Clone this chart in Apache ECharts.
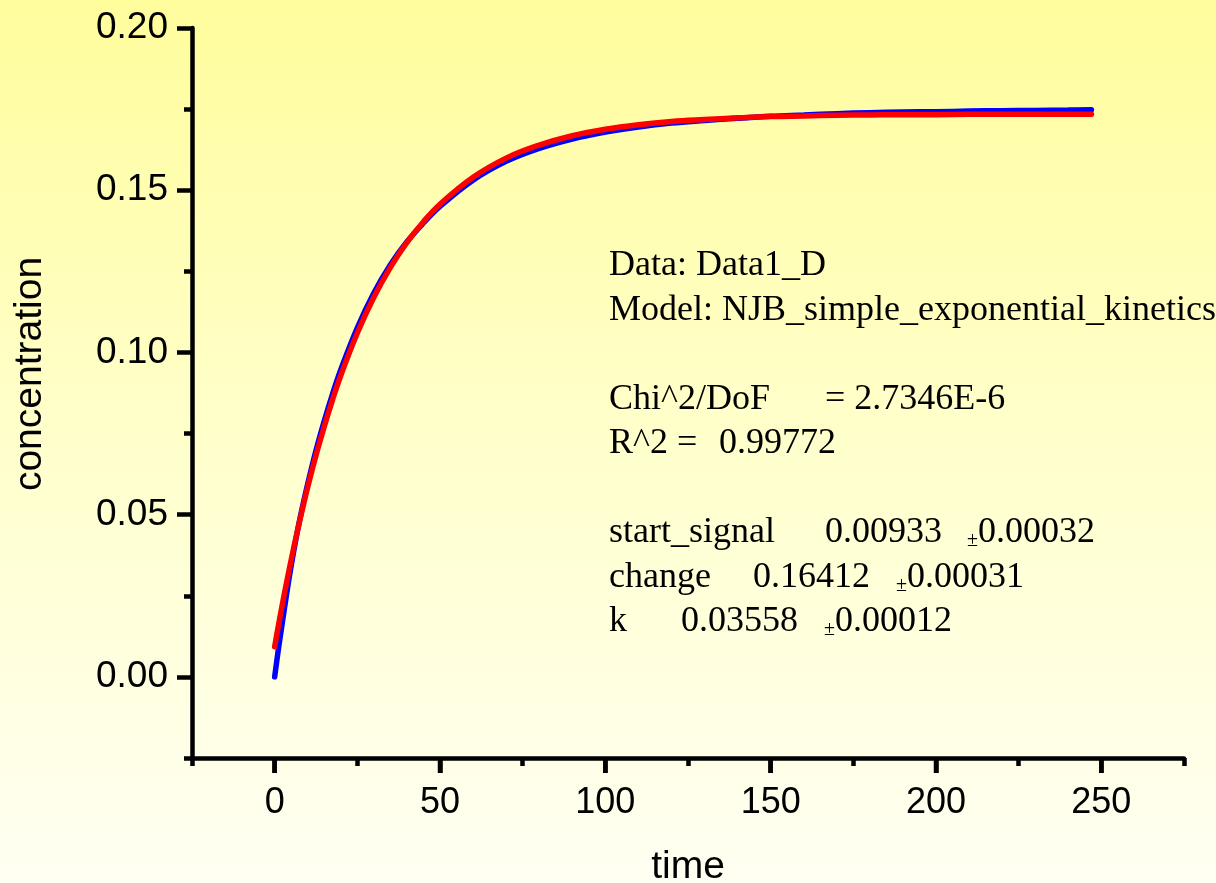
<!DOCTYPE html>
<html>
<head>
<meta charset="utf-8">
<script src="https://cdn.jsdelivr.net/npm/echarts@6/dist/echarts.min.js"></script>
<style>
  html, body { margin: 0; padding: 0; }
  #chart { width: 1216px; height: 883px; }
</style>
</head>
<body>
<div id="chart"></div>
<script>
// Sampling times (same grid for the measured trace and the fitted curve)
const times = [0, 1, 2, 3, 4, 5, 6, 7, 8, 10, 12.5, 15, 17.5, 20, 25, 30, 35, 40, 45, 50,
  60, 70, 80, 90, 100, 110, 120, 130, 140, 150, 160, 170, 180, 190, 200, 210, 220, 230, 240, 247];

// Measured concentration (Data1_D)
const measured = [0.0000, 0.0076, 0.0146, 0.0214, 0.0281, 0.0343, 0.0401, 0.0455, 0.0505, 0.0595,
  0.0698, 0.0789, 0.0872, 0.0947, 0.1076, 0.1183, 0.1270, 0.1341, 0.1399, 0.1450,
  0.1531, 0.1589, 0.1629, 0.1658, 0.1679, 0.1695, 0.1707, 0.1715, 0.1722, 0.1728,
  0.1732, 0.1736, 0.1739, 0.1741, 0.1742, 0.1744, 0.1745, 0.1746, 0.1747, 0.1748];

// Fitted curve (NJB_simple_exponential_kinetics)
const fitted = [0.0093, 0.0151, 0.0206, 0.0260, 0.0311, 0.0361, 0.0409, 0.0455, 0.0500, 0.0585,
  0.0683, 0.0772, 0.0854, 0.0929, 0.1060, 0.1170, 0.1262, 0.1339, 0.1403, 0.1457,
  0.1540, 0.1599, 0.1639, 0.1668, 0.1688, 0.1702, 0.1712, 0.1718, 0.1723, 0.1727,
  0.1729, 0.1731, 0.1732, 0.1733, 0.1733, 0.1734, 0.1734, 0.1734, 0.1734, 0.1734];

// Axis ticks
const xMajorTicks = [0, 50, 100, 150, 200, 250];
const xMinorTicks = [-25, 25, 75, 125, 175, 225, 275];
const yMajorTicks = [0, 0.05, 0.10, 0.15, 0.20];
const yMinorTicks = [-0.025, 0.025, 0.075, 0.125, 0.175];
const X_MIN = -25, X_MAX = 275, Y_MIN = -0.025, Y_MAX = 0.2;

// Fit report lines: [text, left x, line index, small?]
const reportItems = [
  ['Data: Data1_D', 609, 0, false],
  ['Model: NJB_simple_exponential_kinetics', 609, 1, false],
  ['Chi^2/DoF', 609, 3, false],
  ['= 2.7346E-6', 825, 3, false],
  ['R^2 =', 609, 4, false],
  ['0.99772', 719, 4, false],
  ['start_signal', 609, 6, false],
  ['0.00933', 825, 6, false],
  ['\u00b1', 967, 6, true],
  ['0.00032', 978, 6, false],
  ['change', 609, 7, false],
  ['0.16412', 753, 7, false],
  ['\u00b1', 896, 7, true],
  ['0.00031', 907, 7, false],
  ['k', 609, 8, false],
  ['0.03558', 681, 8, false],
  ['\u00b1', 824, 8, true],
  ['0.00012', 835, 8, false]
];

const SANS = 'Liberation Sans, Arial, sans-serif';
const SERIF = 'Liberation Serif, Times New Roman, serif';
const AXIS_W = 4.5;
const MAJOR_LEN = 15, MINOR_LEN = 8;

const chart = echarts.init(document.getElementById('chart'), null, { renderer: 'canvas' });

const pairs = (ys) => times.map((t, i) => [t, ys[i]]);

const reportGraphics = reportItems.map(([txt, x, line, small]) => ({
  type: 'text',
  x: x,
  y: 284 + line * 44.5,
  silent: true,
  style: {
    text: txt,
    fill: '#000',
    font: (small ? '20px ' : '36px ') + SERIF,
    align: 'left',
    verticalAlign: 'bottom'
  }
}));

const lineStyleAxis = { color: '#000', width: AXIS_W, cap: 'round' };
const lineStyleTick = { color: '#000', width: AXIS_W };

// Main axis: line, labelled long ticks, labels and name.
function mainAxis(dim, min, max, step, majors, name, nameGap, labelMargin, decimals) {
  return {
    type: 'value', min: min, max: max, interval: step,
    position: dim === 'x' ? 'bottom' : 'left',
    splitLine: { show: false },
    name: name, nameLocation: 'middle', nameGap: nameGap,
    nameTextStyle: { fontSize: 39, fontFamily: SANS, color: '#000',
      padding: dim === 'y' ? [0, 0, 0, 38] : 0 },
    axisLine: { show: true, onZero: false, lineStyle: lineStyleAxis },
    axisTick: { show: true, customValues: majors.slice(), length: MAJOR_LEN, lineStyle: lineStyleTick },
    axisLabel: { customValues: majors.slice(), formatter: (v) => Number(v).toFixed(decimals),
      fontSize: dim === 'y' ? 37 : 36, fontFamily: SANS, color: '#000', margin: labelMargin }
  };
}
// Companion axis carrying only the short intermediate ticks.
function minorAxis(dim, min, max, step, values) {
  return {
    type: 'value', min: min, max: max, interval: step,
    position: dim === 'x' ? 'bottom' : 'left', offset: 0,
    splitLine: { show: false },
    axisLine: { show: false, onZero: false },
    axisTick: { show: true, customValues: values.slice(), length: MINOR_LEN, lineStyle: lineStyleTick },
    axisLabel: { show: false }
  };
}

// Long ticks under the time axis, placed through the axis scales on their own layer
const timeMajorTickSeries = {
  type: 'custom', name: 'time ticks', silent: true, clip: false, z: 100, zlevel: 1,
  xAxisIndex: 0, yAxisIndex: 0,
  data: xMajorTicks.map((v) => [v, Y_MIN]),
  renderItem: (params, api) => {
    const p = api.coord([api.value(0), api.value(1)]);
    return {
      type: 'rect',
      shape: { x: p[0] - AXIS_W / 2, y: p[1], width: AXIS_W, height: MAJOR_LEN },
      style: { fill: '#000' }
    };
  }
};

chart.setOption({
  backgroundColor: {
    type: 'linear', x: 0, y: 0, x2: 0, y2: 1,
    colorStops: [
      { offset: 0, color: '#FFFD9C' },
      { offset: 0.5, color: '#FFFFCC' },
      { offset: 1, color: '#FFFFF3' }
    ]
  },
  animation: false,
  grid: { left: 192, right: 32, top: 28, bottom: 125, containLabel: false, outerBoundsMode: 'none' },
  xAxis: [
    mainAxis('x', X_MIN, X_MAX, 25, xMajorTicks, 'time', 90, 27, 0),
    minorAxis('x', X_MIN, X_MAX, 25, xMinorTicks)
  ],
  yAxis: [
    mainAxis('y', Y_MIN, Y_MAX, 0.025, yMajorTicks, 'concentration', 142, 24, 2),
    minorAxis('y', Y_MIN, Y_MAX, 0.025, yMinorTicks)
  ],
  series: [
    {
      name: 'Data1_D', type: 'line', xAxisIndex: 0, yAxisIndex: 0,
      data: pairs(measured), showSymbol: false, smooth: 0.4,
      lineStyle: { color: '#0000FF', width: 5.5, cap: 'round' }, z: 3
    },
    {
      name: 'fit', type: 'line', xAxisIndex: 0, yAxisIndex: 0,
      data: pairs(fitted), showSymbol: false, smooth: 0.4,
      lineStyle: { color: '#FF0000', width: 5.5, cap: 'round' }, z: 4
    },
    timeMajorTickSeries
  ],
  graphic: reportGraphics
});
</script>
</body>
</html>
